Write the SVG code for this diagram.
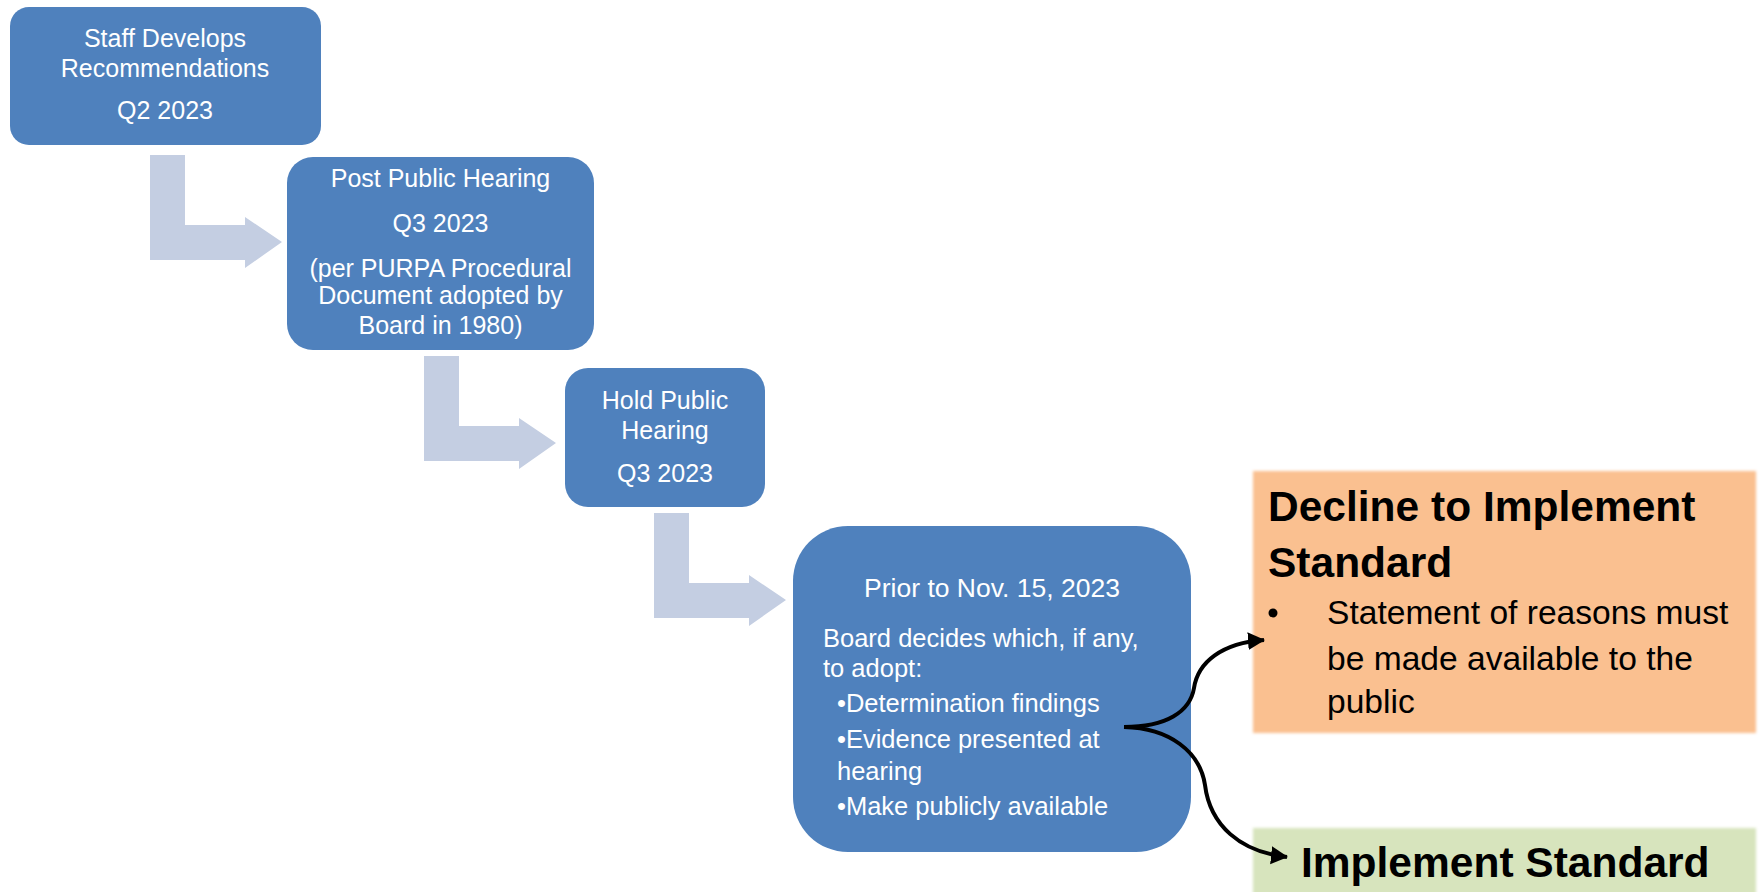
<svg xmlns="http://www.w3.org/2000/svg" width="1762" height="892" viewBox="0 0 1762 892">
<defs>
<style>
.box{fill:#4F81BD;}
.wt{fill:#FFFFFF;font-family:"Liberation Sans",Arial,sans-serif;font-size:25px;}
.c{text-anchor:middle;}
.bk{fill:#000000;font-family:"Liberation Sans",Arial,sans-serif;}
.bold{font-weight:bold;font-size:42.5px;}
.reg{font-size:33.6px;}
.bent{fill:#C4CEE2;}
.conn{fill:none;stroke:#000000;stroke-width:4;}
</style>
<path id="bentArrow" d="M0,0 L35,0 L35,70 L95,70 L95,62 L132,87 L95,113 L95,105 L0,105 Z"/>
<marker id="ah" markerUnits="userSpaceOnUse" markerWidth="20" markerHeight="20" refX="16" refY="9" orient="auto">
<path d="M0,0 L17,9 L0,18 Z" fill="#000000"/>
</marker>
<filter id="soft" x="-5%" y="-5%" width="110%" height="110%">
<feGaussianBlur stdDeviation="1.5"/>
</filter>
</defs>

<g id="bent-arrows">
<use href="#bentArrow" class="bent" transform="translate(150,155)"/>
<use href="#bentArrow" class="bent" transform="translate(424,356)"/>
<use href="#bentArrow" class="bent" transform="translate(654,513)"/>
</g>

<g id="node-staff">
<rect class="box" x="10" y="7" width="311" height="138" rx="19" ry="19"/>
<text class="wt c" x="165" y="47">Staff Develops</text>
<text class="wt c" x="165" y="77">Recommendations</text>
<text class="wt c" x="165" y="119">Q2 2023</text>
</g>

<g id="node-post">
<rect class="box" x="287" y="157" width="307" height="193" rx="26" ry="26"/>
<text class="wt c" x="440.5" y="187">Post Public Hearing</text>
<text class="wt c" x="440.5" y="232">Q3 2023</text>
<text class="wt c" x="440.5" y="277">(per PURPA Procedural</text>
<text class="wt c" x="440.5" y="304">Document adopted by</text>
<text class="wt c" x="440.5" y="334">Board in 1980)</text>
</g>

<g id="node-hold">
<rect class="box" x="565" y="368" width="200" height="139" rx="23" ry="23"/>
<text class="wt c" x="665" y="409">Hold Public</text>
<text class="wt c" x="665" y="439">Hearing</text>
<text class="wt c" x="665" y="482">Q3 2023</text>
</g>

<g id="node-board">
<rect class="box" x="793" y="526" width="398" height="326" rx="55" ry="55"/>
<text class="wt c" x="992" y="597" style="font-size:26.5px">Prior to Nov. 15, 2023</text>
<text class="wt" x="823" y="647" style="font-size:25.5px">Board decides which, if any,</text>
<text class="wt" x="823" y="677" style="font-size:25.5px">to adopt:</text>
<text class="wt" x="837" y="712" style="font-size:25.5px">•Determination findings</text>
<text class="wt" x="837" y="748" style="font-size:25.5px">•Evidence presented at</text>
<text class="wt" x="837" y="780" style="font-size:25.5px">hearing</text>
<text class="wt" x="837" y="815" style="font-size:25.5px">•Make publicly available</text>
</g>

<g id="node-decline">
<rect x="1253" y="471" width="503" height="262" fill="#FAC090" filter="url(#soft)"/>
<text class="bk bold" x="1268" y="521">Decline to Implement</text>
<text class="bk bold" x="1268" y="577">Standard</text>
<circle cx="1273" cy="613" r="4.5" fill="#000000"/>
<text class="bk reg" x="1327" y="624">Statement of reasons must</text>
<text class="bk reg" x="1327" y="670">be made available to the</text>
<text class="bk reg" x="1327" y="713">public</text>
</g>

<g id="node-implement">
<rect x="1253" y="828" width="503" height="70" fill="#D7E4BD" filter="url(#soft)"/>
<text class="bk bold" x="1301" y="877">Implement Standard</text>
</g>

<g id="connectors">
<path class="conn" marker-end="url(#ah)" d="M1124,727 C1166,727 1190,712 1194,688 C1198,662 1222,643 1264,640"/>
<path class="conn" marker-end="url(#ah)" d="M1124,727 C1170,728 1200,752 1205,785 C1210,825 1240,852 1287,857"/>
</g>
</svg>
